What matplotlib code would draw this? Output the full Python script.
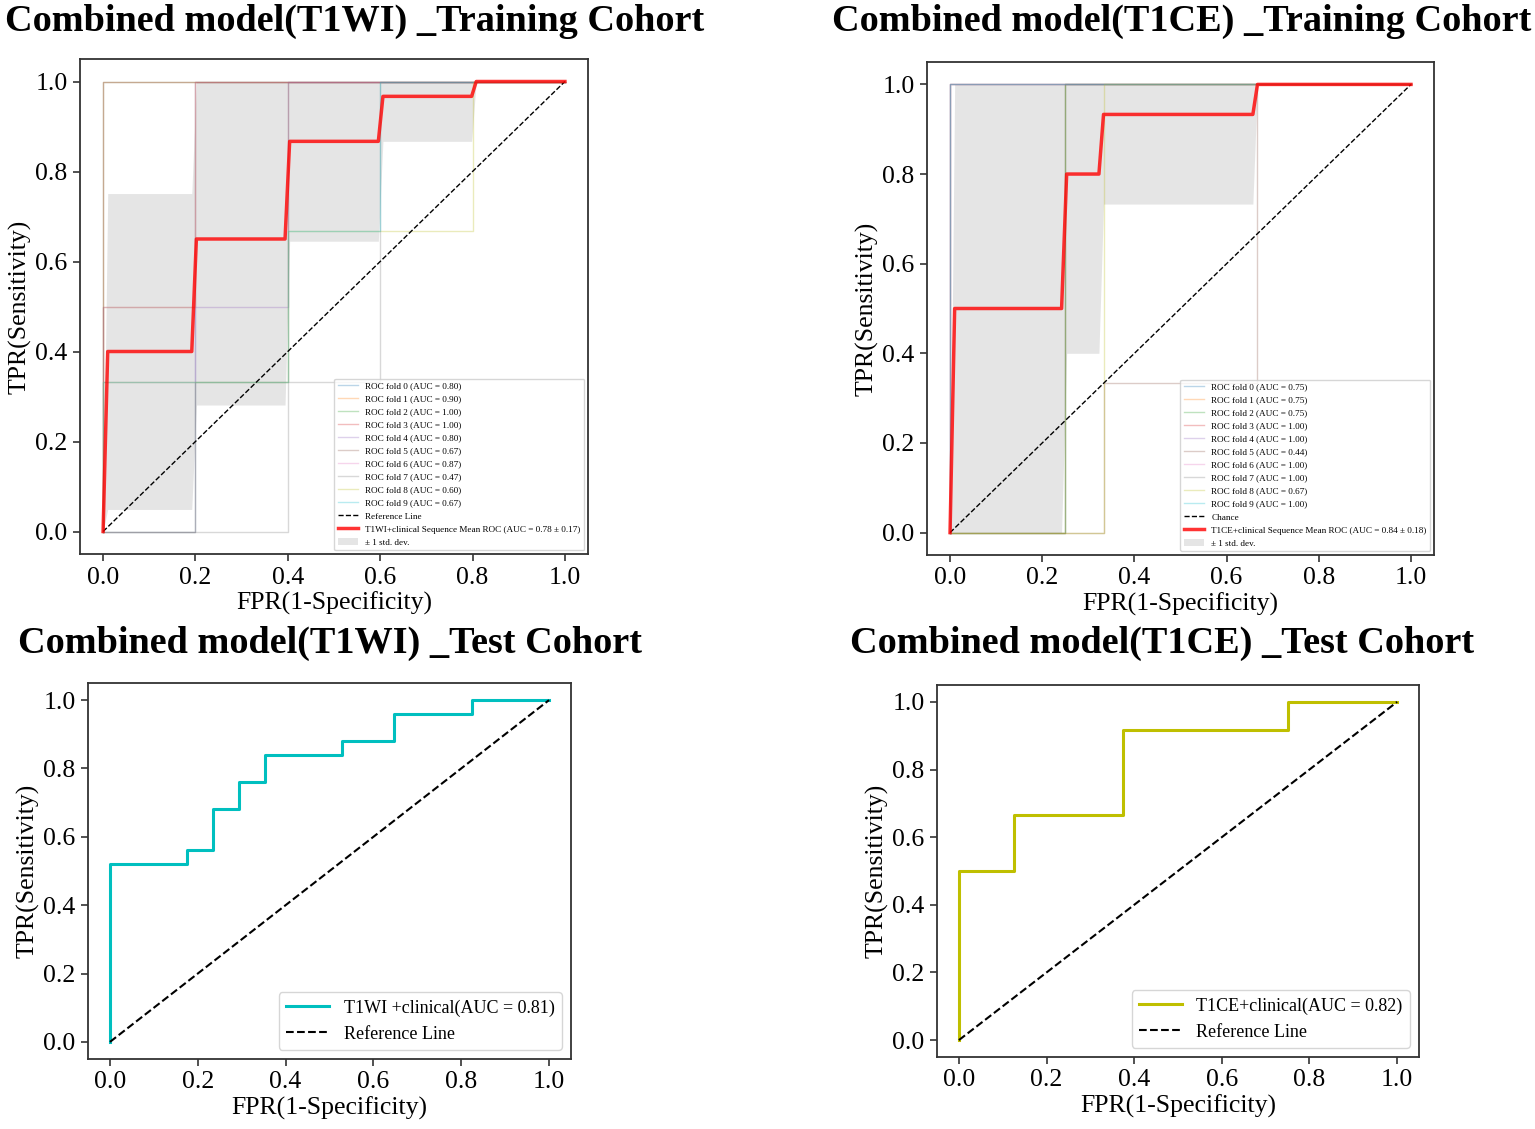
import matplotlib
matplotlib.use("Agg")
import matplotlib.pyplot as plt

plt.rcParams['font.family'] = ['Liberation Serif', 'DejaVu Serif']

# --- Training cohort, T1WI + clinical: per-fold ROC curves
t1wi_fold_fpr = [
    [0, 0.2, 0.2, 1],
    [0, 0, 0.2, 0.2, 1],
    [0, 0, 1],
    [0, 0, 1],
    [0, 0, 0.4, 0.4, 1],
    [0, 0.2, 0.2, 0.4, 0.4, 1],
    [0, 0, 0.2, 0.2, 1],
    [0, 0.4, 0.4, 0.6, 0.6, 1],
    [0, 0, 0.4, 0.4, 0.8, 0.8, 1],
    [0, 0, 0.4, 0.4, 0.6, 0.6, 1],
]
t1wi_fold_tpr = [
    [0, 0, 1, 1],
    [0, 0.5, 0.5, 1, 1],
    [0, 1, 1],
    [0, 1, 1],
    [0, 0.5, 0.5, 1, 1],
    [0, 0, 0.333, 0.333, 1, 1],
    [0, 0.333, 0.333, 1, 1],
    [0, 0, 0.333, 0.333, 1, 1],
    [0, 0.333, 0.333, 0.667, 0.667, 1, 1],
    [0, 0.333, 0.333, 0.667, 0.667, 1, 1],
]
t1wi_fold_auc = [0.80, 0.90, 1.00, 1.00, 0.80, 0.67, 0.87, 0.47, 0.60, 0.67]

t1wi_mean_fpr = [0, 0.010, 0.192, 0.202, 0.394, 0.404, 0.596, 0.606, 0.798, 0.808, 1.0]
t1wi_mean_tpr = [0, 0.40, 0.40, 0.65, 0.65, 0.867, 0.867, 0.967, 0.967, 1.0, 1.0]
t1wi_std_lo = [0, 0.049, 0.049, 0.281, 0.281, 0.645, 0.645, 0.867, 0.867, 1.0, 1.0]
t1wi_std_hi = [0, 0.751, 0.751, 1.0, 1.0, 1.0, 1.0, 1.0, 1.0, 1.0, 1.0]

# --- Training cohort, T1CE + clinical
t1ce_fold_fpr = [
    [0, 0.25, 0.25, 1],
    [0, 0.25, 0.25, 1],
    [0, 0.25, 0.25, 1],
    [0, 0, 1],
    [0, 0, 1],
    [0, 0.333, 0.333, 0.667, 0.667, 1],
    [0, 0, 1],
    [0, 0, 1],
    [0, 0.333, 0.333, 1],
    [0, 0, 1],
]
t1ce_fold_tpr = [
    [0, 0, 1, 1],
    [0, 0, 1, 1],
    [0, 0, 1, 1],
    [0, 1, 1],
    [0, 1, 1],
    [0, 0, 0.333, 0.333, 1, 1],
    [0, 1, 1],
    [0, 1, 1],
    [0, 0, 1, 1],
    [0, 1, 1],
]
t1ce_fold_auc = [0.75, 0.75, 0.75, 1.00, 1.00, 0.44, 1.00, 1.00, 0.67, 1.00]

t1ce_mean_fpr = [0, 0.010, 0.242, 0.253, 0.323, 0.333, 0.657, 0.667, 1.0]
t1ce_mean_tpr = [0, 0.5, 0.5, 0.8, 0.8, 0.933, 0.933, 1.0, 1.0]
t1ce_std_lo = [0, 0.0, 0.0, 0.4, 0.4, 0.733, 0.733, 1.0, 1.0]
t1ce_std_hi = [0, 1.0, 1.0, 1.0, 1.0, 1.0, 1.0, 1.0, 1.0]

# --- Test cohort curves
test_t1wi_fpr = [0, 0, 0.176, 0.176, 0.235, 0.235, 0.294, 0.294, 0.353, 0.353,
                 0.529, 0.529, 0.647, 0.647, 0.824, 0.824, 1.0]
test_t1wi_tpr = [0, 0.52, 0.52, 0.56, 0.56, 0.68, 0.68, 0.76, 0.76, 0.84,
                 0.84, 0.88, 0.88, 0.96, 0.96, 1.0, 1.0]
test_t1ce_fpr = [0, 0, 0.125, 0.125, 0.375, 0.375, 0.75, 0.75, 1.0]
test_t1ce_tpr = [0, 0.5, 0.5, 0.667, 0.667, 0.917, 0.917, 1.0, 1.0]

W, H = 1535, 1129
fig = plt.figure(figsize=(W / 100, H / 100), dpi=100)


def px_axes(x0, y0, x1, y1):
    return fig.add_axes([x0 / W, 1 - y1 / H, (x1 - x0) / W, (y1 - y0) / H])


def style_axes(ax):
    ax.set_xlim(-0.05, 1.05)
    ax.set_ylim(-0.05, 1.05)
    ticks = [0.0, 0.2, 0.4, 0.6, 0.8, 1.0]
    ax.set_xticks(ticks)
    ax.set_yticks(ticks)
    ax.set_xticklabels([f"{t:.1f}" for t in ticks])
    ax.set_yticklabels([f"{t:.1f}" for t in ticks])
    ax.tick_params(labelsize=18.5, length=5, width=1.2, color='#333333', pad=4)
    for s in ax.spines.values():
        s.set_color('#333333')
        s.set_linewidth(1.3)
    ax.set_xlabel('FPR(1-Specificity)', fontsize=18.5, labelpad=2)
    ax.set_ylabel('TPR(Sensitivity)', fontsize=18.5, labelpad=3)


def training_panel(ax, fprs, tprs, aucs, mean_fpr, mean_tpr, lo, hi,
                   chance_label, mean_label):
    colors = plt.rcParams['axes.prop_cycle'].by_key()['color']
    for i in range(len(fprs)):
        ax.plot(fprs[i], tprs[i], lw=1, alpha=0.3, color=colors[i % 10],
                label=f'ROC fold {i} (AUC = {aucs[i]:.2f})')
    ax.plot([0, 1], [0, 1], linestyle='--', color='k', lw=1, label=chance_label)
    ax.plot(mean_fpr, mean_tpr, color='r', lw=2.5, alpha=0.8, label=mean_label)
    ax.fill_between(mean_fpr, lo, hi, color='grey', alpha=0.2, lw=0,
                    label='± 1 std. dev.')
    style_axes(ax)
    ax.legend(loc='lower right', fontsize=6.6, framealpha=0.8,
              handlelength=2.2, labelspacing=0.5, borderaxespad=0.4)


ax1 = px_axes(80, 59, 588, 554)
training_panel(ax1, t1wi_fold_fpr, t1wi_fold_tpr, t1wi_fold_auc,
               t1wi_mean_fpr, t1wi_mean_tpr, t1wi_std_lo, t1wi_std_hi,
               'Reference Line',
               'T1WI+clinical Sequence Mean ROC (AUC = 0.78 ± 0.17)')

ax2 = px_axes(927, 62, 1434, 555)
training_panel(ax2, t1ce_fold_fpr, t1ce_fold_tpr, t1ce_fold_auc,
               t1ce_mean_fpr, t1ce_mean_tpr, t1ce_std_lo, t1ce_std_hi,
               'Chance',
               'T1CE+clinical Sequence Mean ROC (AUC = 0.84 ± 0.18)')

ax3 = px_axes(88, 683, 571, 1059)
ax3.plot(test_t1wi_fpr, test_t1wi_tpr, color='c', lw=2.2,
         label='T1WI +clinical(AUC = 0.81)')
ax3.plot([0, 1], [0, 1], linestyle='--', color='k', lw=1.5, label='Reference Line')
style_axes(ax3)
ax3.legend(loc='lower right', fontsize=13, handlelength=2.4, borderaxespad=0.5)

ax4 = px_axes(937, 685, 1419, 1057)
ax4.plot(test_t1ce_fpr, test_t1ce_tpr, color='y', lw=2.2,
         label='T1CE+clinical(AUC = 0.82)')
ax4.plot([0, 1], [0, 1], linestyle='--', color='k', lw=1.5, label='Reference Line')
style_axes(ax4)
ax4.legend(loc='lower right', fontsize=13, handlelength=2.4, borderaxespad=0.5)

# panel titles
title_kw = dict(fontsize=27.5, fontweight='bold', ha='center', va='center')
fig.text(355 / W, 1 - 21 / H, 'Combined model(T1WI) _Training Cohort', **title_kw)
fig.text(1182 / W, 1 - 21 / H, 'Combined model(T1CE) _Training Cohort', **title_kw)
fig.text(330 / W, 1 - 643 / H, 'Combined model(T1WI) _Test Cohort', **title_kw)
fig.text(1162 / W, 1 - 643 / H, 'Combined model(T1CE) _Test Cohort', **title_kw)

fig.savefig('out.png', dpi=100)
